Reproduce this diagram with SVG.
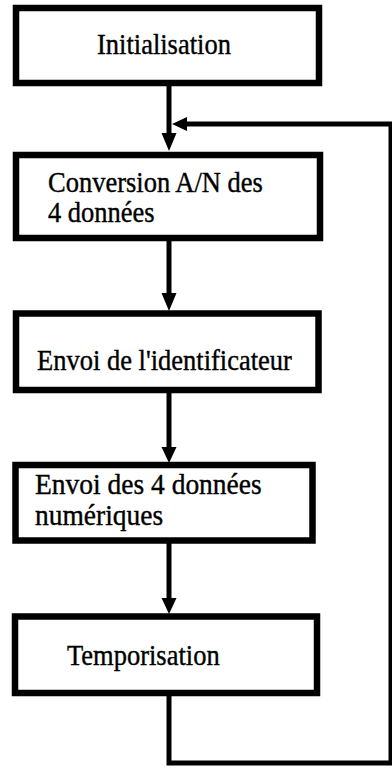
<svg xmlns="http://www.w3.org/2000/svg" width="392" height="769" viewBox="0 0 392 769">
<style>
.box{fill:#fff;stroke:#000;stroke-width:6.5}
.ln{fill:none;stroke:#000;stroke-width:5}
.head{fill:#000}
.t{font-family:"Liberation Serif","Times New Roman",serif;font-size:26.5px;fill:#000;stroke:#000;stroke-width:0.35}
</style>
<rect width="392" height="769" fill="#fff"/>
<g id="connectors">
<path class="ln" d="M169,86 V134"/>
<polygon class="head" points="161.5,133 176.5,133 169,151"/>
<path class="ln" d="M169,241 V294"/>
<polygon class="head" points="161.5,293 176.5,293 169,311"/>
<path class="ln" d="M169,393 V448"/>
<polygon class="head" points="161.5,447 176.5,447 169,463"/>
<path class="ln" d="M169,696 V763 H391 V124 H185"/>
<path class="ln" d="M169,543 V599"/>
<polygon class="head" points="161.5,598 176.5,598 169,614"/>
<polygon class="head" points="172,124 187,117 187,131"/>
</g>
<g id="n1">
<rect class="box" x="16" y="8" width="303" height="75"/>
<text class="t" transform="translate(97,53.5) scale(1,1.1)">Initialisation</text>
</g>
<g id="n2">
<rect class="box" x="16" y="155" width="304" height="83"/>
<text class="t" transform="translate(48,191.5) scale(1,1.12)">Conversion A/N des</text>
<text class="t" transform="translate(48,221.5) scale(1,1.12)">4 données</text>
</g>
<g id="n3">
<rect class="box" x="16" y="313.5" width="302.5" height="76.5"/>
<text class="t" transform="translate(37,370) scale(1,1.12)">Envoi de l'identificateur</text>
</g>
<g id="n4">
<rect class="box" x="15.5" y="465" width="297" height="75.5"/>
<text class="t" style="font-size:27.5px" transform="translate(35,494) scale(1,1.1)">Envoi des 4 données</text>
<text class="t" style="font-size:27.5px" transform="translate(35,525) scale(1,1.1)">numériques</text>
</g>
<g id="n5">
<rect class="box" x="15" y="616.5" width="302" height="76.5"/>
<text class="t" transform="translate(67,665) scale(1,1.12)">Temporisation</text>
</g>
</svg>
